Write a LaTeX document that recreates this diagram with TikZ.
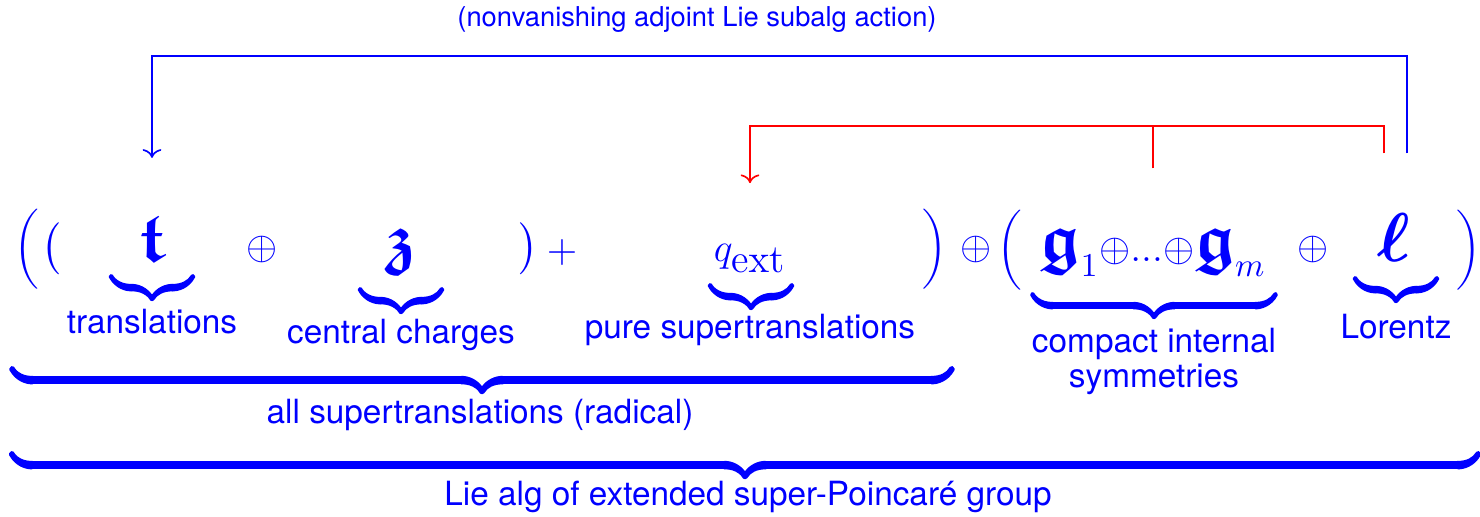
\documentclass[tikz,border=0pt]{standalone}
\usepackage{amsmath,amssymb}
\usepackage[no-math]{fontspec}
\setmainfont{TeX Gyre Heros}
\usetikzlibrary{calc,arrows.meta}
\newcommand{\bfr}[1]{\text{\huge$\boldsymbol{\mathfrak{#1}}$}}
\newcommand{\subn}[1]{\text{\normalsize$#1$}}
% heavy under-brace of a given width (#2 = half the stroke)
\makeatletter
\newcommand{\hbrc}[2]{\hbox to #1{$\m@th\setbox\z@\hbox{$\braceld$}%
  \bracelu\leaders\vrule\@height\dimexpr\ht\z@+#2\relax\@depth#2\hfill\bracerd
  \braceld\leaders\vrule\@height\dimexpr\ht\z@+#2\relax\@depth#2\hfill\braceru$}}
\makeatother
\tikzset{
  sym/.style={text=blue, inner sep=0pt, font=\fontsize{12}{14}\selectfont},
  dlm/.style={text=blue, inner sep=0pt, font=\fontsize{10}{12}\selectfont},
  lbl/.style={text=blue, inner sep=0pt, align=center, font=\fontsize{10}{10.5}\selectfont},
  brc/.style={text=blue, inner sep=0pt, anchor=south, font=\fontsize{13.5}{16}\selectfont,
    execute at begin node={\special{pdf:literal direct 2 Tr #1 w}},
    execute at end node={\special{pdf:literal direct 0 Tr}}},
  brc/.default=0.6,
  act/.style={-{Computer Modern Rightarrow[length=2.6pt,width=5.6pt]}, line width=0.5pt},
}

\begin{document}
\begin{tikzpicture}[x=0.3pt,y=-0.3pt]
  \useasboundingbox (0,0) rectangle (1480,517);
  % the sum
  \node[dlm] (lpo) at (27,249) {$\bigg($};
  \node[dlm, font=\fontsize{13}{15}\selectfont] (lpi) at (51,249) {$\big($};
  \node[sym, anchor=base] (t) at (152,262) {$\bfr{t}$};
  \node[sym] (op1) at (262,250) {$\oplus$};
  \node[sym, anchor=base] (z) at (401,262) {$\bfr{z}$};
  \node[dlm, font=\fontsize{13}{15}\selectfont] (rpi) at (528,249) {$\big)$};
  \node[sym] (pl) at (562,253) {$+$};
  \node[sym, anchor=base] (q) at (750,262) {$q_{\textstyle\mathrm{ext}}$};
  \node[dlm] (rpo) at (935,249) {$\bigg)$};
  \node[sym] (op2) at (976,250) {$\oplus$};
  \node[dlm] (lpg) at (1010,250) {$\bigg($};
  \node[sym, anchor=base] (g) at (1153,262)
    {$\bfr{g}_{\subn{1}}{\oplus}{.}{.}{.}{\oplus}\bfr{g}_{\subn{m}}$};
  \node[sym] (op3) at (1313,250) {$\oplus$};
  \node[sym, anchor=base] (l) at (1394,262) {$\text{\huge$\boldsymbol{\ell}$}$};
  \node[dlm] (rpg) at (1469,250) {$\bigg)$};
  % braces
  \node[brc] (tb) at (152,292) {\hbrc{24.6pt}{0.3pt}};
  \node[brc] (zb) at (401,305) {\hbrc{24.6pt}{0.3pt}};
  \node[brc] (qb) at (751,301) {\hbrc{24.6pt}{0.3pt}};
  \node[brc] (gb) at (1154,310) {\hbrc{73pt}{0.3pt}};
  \node[brc] (lb) at (1396,294) {\hbrc{24.6pt}{0.3pt}};
  \node[brc=0.9] (rad) at (482,385) {\hbrc{282pt}{0.45pt}};
  \node[brc=0.9] (sp) at (745,470) {\hbrc{440pt}{0.45pt}};
  % labels under the braces
  \node[lbl] (tl) at (152,322) {translations};
  \node[lbl] (zl) at (401,335) {central charges};
  \node[lbl] (ql) at (750,330) {pure supertranslations};
  \node[lbl] (gl) at (1154,361) {compact internal\\symmetries};
  \node[lbl] (ll) at (1396,327) {Lorentz};
  \node[lbl] (radl) at (480,415) {all supertranslations (radical)};
  \node[lbl] (spl) at (748,497) {Lie alg of extended super-Poincaré group};
  % actions
  \node[lbl, font=\fontsize{8.2}{10}\selectfont] (actl) at (697,20) {(nonvanishing adjoint Lie subalg action)};
  \draw[act, blue] ($(l.north)+(13,-60)$) |- ($(t.north)+(0,-162)$) -- ($(t.north)+(0,-60)$);
  \draw[act, red] ($(l.north)+(-10,-60)$) |- ($(q.north)+(0,-118)$) -- ($(q.north)+(0,-61)$);
  \draw[red, line width=0.5pt] ($(g.north)+(0,-60)$) -- ($(g.north |- q.north)+(0,-118)$);
\end{tikzpicture}
\end{document}
